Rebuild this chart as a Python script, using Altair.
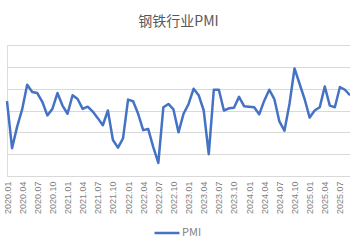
import altair as alt
import pandas as pd

months = [f"{y}.{m:02d}" for y in range(2020, 2026) for m in range(1, 13)][:69]
pmi = [45.7, 37.1, 41.0, 44.2, 48.7, 47.4, 47.2, 45.6, 43.1, 44.3, 47.2, 44.9,
       43.4, 46.8, 46.1, 44.3, 44.7, 43.8, 42.6, 41.3, 44.0, 38.6, 37.2, 38.9,
       46.0, 45.7, 43.4, 40.4, 40.6, 37.3, 34.4, 44.6, 45.2, 44.2, 40.0, 43.4,
       45.2, 48.0, 46.8, 44.0, 36.0, 47.8, 47.8, 44.0, 44.4, 44.5, 46.5, 44.8,
       44.7, 44.6, 43.3, 45.8, 47.8, 46.1, 42.0, 40.3, 45.2, 51.7, 48.9, 46.1,
       42.7, 44.0, 44.6, 48.4, 44.9, 44.6, 48.3, 47.8, 46.8]
tick_labels = months[::3]
y_ticks = [32, 36, 40, 44, 48, 52, 56]

df = pd.DataFrame({"month": months, "value": pmi, "series": ["PMI"] * len(months)})

chart = alt.Chart(df).mark_line(strokeWidth=2.5, strokeJoin="round").encode(
    x=alt.X("month:O", sort=months,
            scale=alt.Scale(type="point", padding=0),
            axis=alt.Axis(values=tick_labels, labelAngle=-90, labelFontSize=9,
                          labelColor="#7f7f7f", labelFont="Liberation Sans",
                          labelPadding=5, ticks=False, domainColor="#D9D9D9",
                          domainWidth=1, grid=False, title=None)),
    y=alt.Y("value:Q", scale=alt.Scale(domain=[32, 56], nice=False, zero=False),
            axis=alt.Axis(values=y_ticks, labels=False, ticks=False, domain=False,
                          gridColor="#D9D9D9", gridWidth=1, title=None)),
    color=alt.Color("series:N", scale=alt.Scale(range=["#4472C4"]),
                    legend=alt.Legend(title=None, orient="none", legendX=146, legendY=174,
                                      direction="horizontal",
                                      symbolType="stroke", symbolSize=625,
                                      symbolStrokeWidth=2.5, labelFontSize=11,
                                      labelColor="#7f7f7f", labelFont="Noto Sans CJK SC",
                                      labelOffset=1)),
).properties(
    width=343, height=131,
    title=alt.TitleParams("钢铁行业PMI", fontSize=14, color="#595959",
                          fontWeight="normal", font="Noto Sans CJK SC",
                          anchor="middle", offset=16),
    autosize=alt.AutoSizeParams(type="none"),
    padding={"left": 7, "top": 45, "right": 0, "bottom": 74},
).configure_view(stroke=None).configure(background="white")

chart.save("out.html", embed_options={"renderer": "svg", "actions": False})
